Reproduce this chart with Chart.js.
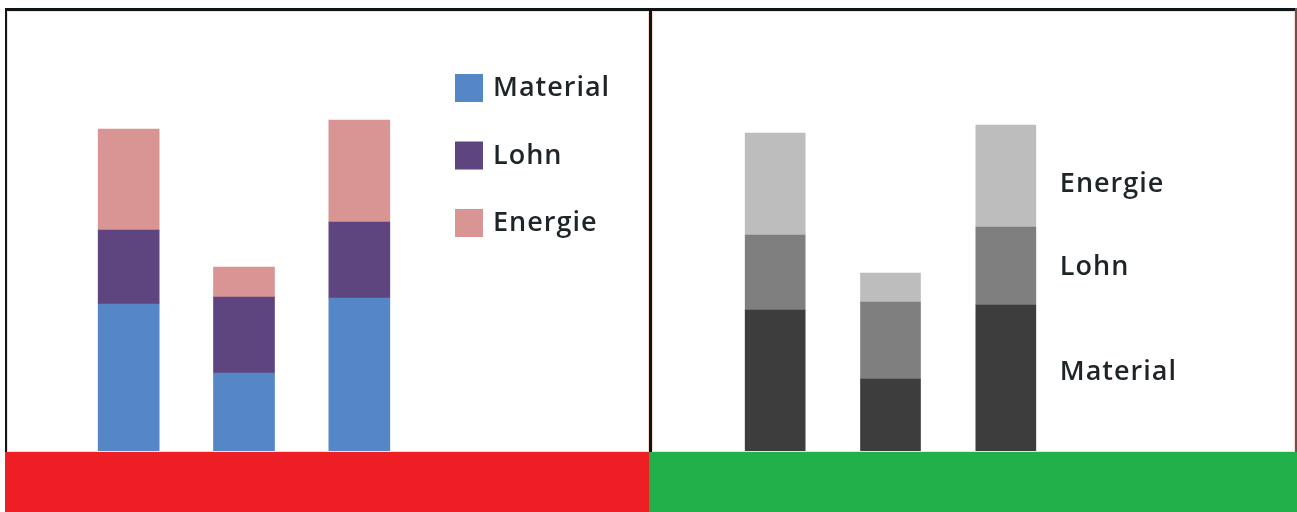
<!DOCTYPE html>
<html><head><meta charset="utf-8">
<script src="https://cdn.jsdelivr.net/npm/chart.js@4.4.1/dist/chart.umd.min.js"></script>
<style>
html,body{margin:0;padding:0;background:#fff;width:1297px;height:512px;overflow:hidden;position:relative}
.abs{position:absolute}
canvas{position:absolute}
</style></head><body>
<div class="abs" style="left:7px;top:11px;width:640px;height:439px;border:1px solid #f7ddd2"></div>
<div class="abs" style="left:652px;top:11px;width:641px;height:439px;border:1px solid #f7ddd2"></div>
<canvas id="cl" width="642" height="441" style="left:7px;top:10px"></canvas>
<canvas id="cr" width="644" height="441" style="left:652px;top:10px"></canvas>
<div class="abs" style="left:5px;top:8px;width:1292px;height:3px;background:#0e1516"></div>
<div class="abs" style="left:5px;top:8px;width:2px;height:444px;background:#151515"></div>
<div class="abs" style="left:649px;top:8px;width:3px;height:444px;background:#111"></div>
<div class="abs" style="left:1295px;top:8px;width:2px;height:444px;background:#6e5148"></div>
<div class="abs" style="left:5px;top:452px;width:644px;height:60px;background:#ed1f24"></div>
<div class="abs" style="left:649px;top:452px;width:648px;height:60px;background:#22b04b"></div>
<script>
// Data
const categories = ["1", "2", "3"];
const seriesNames = ["Material", "Lohn", "Energie"];
const leftMaterial = [147, 78, 153];
const leftLohn = [74, 76, 76];
const leftEnergie = [101, 30, 102];
const rightMaterial = [141, 72, 146];
const rightLohn = [75, 77, 78];
const rightEnergie = [102, 29, 102];

const colorsLeft = ["#5587c6", "#5e4580", "#d99594"];
const colorsRight = ["#3d3d3d", "#7f7f7f", "#bdbdbd"];
const FONT = '600 27px "Open Sans"';
const TEXT_COLOR = '#1e2529';

const boxLegend = {
  id: 'boxLegend',
  afterDraw(chart, args, opts) {
    if (!opts || !opts.enabled) return;
    const ctx = chart.ctx;
    ctx.save();
    ctx.font = FONT;
    ctx.letterSpacing = '1px';
    ctx.textBaseline = 'alphabetic';
    chart.data.datasets.forEach((ds, i) => {
      const cy = opts.top + i * opts.step;
      ctx.fillStyle = ds.backgroundColor;
      ctx.fillRect(opts.x, cy - opts.box / 2, opts.box, opts.box);
      ctx.fillStyle = TEXT_COLOR;
      ctx.fillText(ds.label, opts.x + opts.box + opts.gap, cy + 8);
    });
    ctx.restore();
  }
};

const sideLabels = {
  id: 'sideLabels',
  afterDatasetsDraw(chart, args, opts) {
    if (!opts || !opts.enabled) return;
    const ctx = chart.ctx;
    ctx.save();
    ctx.font = FONT;
    ctx.letterSpacing = '1px';
    ctx.textBaseline = 'alphabetic';
    ctx.fillStyle = TEXT_COLOR;
    chart.data.datasets.forEach((ds, i) => {
      const meta = chart.getDatasetMeta(i);
      const el = meta.data[meta.data.length - 1];
      const p = el.getProps(['x', 'width'], true);
      ctx.fillText(ds.label, p.x + p.width / 2 + opts.gap, opts.baselines[i]);
    });
    ctx.restore();
  }
};

function makeChart(id, values, colors, thickness, padL, padR, pluginOpts) {
  return new Chart(document.getElementById(id), {
    type: 'bar',
    data: {
      labels: categories,
      datasets: values.map((v, i) => ({
        label: seriesNames[i],
        data: v,
        backgroundColor: colors[i],
        borderWidth: 0,
        barThickness: thickness
      }))
    },
    options: {
      responsive: false,
      animation: false,
      layout: { padding: { left: padL, right: padR, top: 0, bottom: 0 } },
      scales: {
        x: { stacked: true, display: false },
        y: { stacked: true, display: false, min: 0, max: 441 }
      },
      plugins: Object.assign({ legend: { display: false }, tooltip: { enabled: false } }, pluginOpts)
    },
    plugins: [boxLegend, sideLabels]
  });
}

makeChart('cl', [leftMaterial, leftLohn, leftEnergie], colorsLeft, 61, 64, 232,
  { boxLegend: { enabled: true, x: 448, top: 78, step: 67.5, box: 28, gap: 10 }, sideLabels: { enabled: false } });
makeChart('cr', [rightMaterial, rightLohn, rightEnergie], colorsRight, 60, 65.5, 232.5,
  { boxLegend: { enabled: false }, sideLabels: { enabled: true, gap: 24, baselines: [370, 265, 182] } });
</script>
</body></html>
